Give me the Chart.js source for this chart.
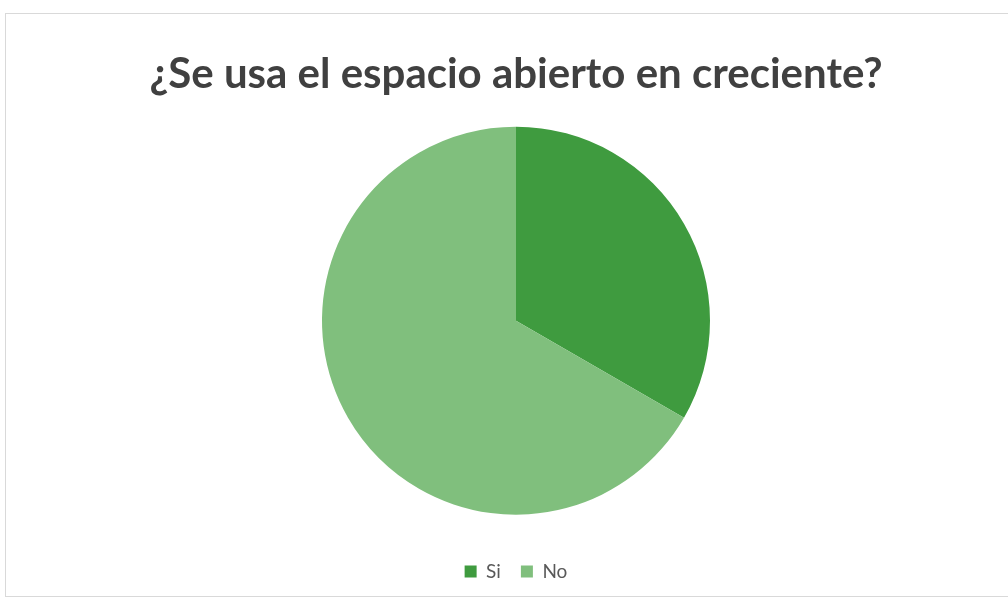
<!DOCTYPE html>
<html>
<head>
<meta charset="utf-8">
<script src="https://cdn.jsdelivr.net/npm/chart.js@4/dist/chart.umd.min.js"></script>
<style>
  html, body { margin: 0; padding: 0; background: #ffffff; }
  #frame { position: absolute; left: 5px; top: 13px; width: 1010px; height: 584px; border: 1px solid #d9d9d9; box-sizing: border-box; }
  #wrap { position: absolute; left: 0; top: 0; width: 1008px; height: 599px; }
</style>
</head>
<body>
<div id="frame"></div>
<div id="wrap"><canvas id="c" width="1008" height="599"></canvas></div>
<script>
const titleText = '¿Se usa el espacio abierto en creciente?';
const categories = ['Si', 'No'];
const values = [1, 2];
const colors = ['#3f9b3f', '#80bf7d'];

// fit title font size to the reference width
const mctx = document.createElement('canvas').getContext('2d');
let titleSize = 34;
for (let s = 28; s <= 44; s += 0.25) {
  mctx.font = 'bold ' + s + 'px Lato';
  if (mctx.measureText(titleText).width <= 737) titleSize = s;
}

new Chart(document.getElementById('c'), {
  type: 'pie',
  data: {
    labels: categories,
    datasets: [{
      data: values,
      backgroundColor: colors,
      borderWidth: 0,
      radius: 194
    }]
  },
  options: {
    responsive: false,
    animation: false,
    layout: { padding: { top: 0, bottom: 8, left: 24, right: 0 } },
    plugins: {
      title: {
        display: true,
        text: titleText,
        color: '#404040',
        font: { family: 'Lato', weight: 'bold', size: titleSize },
        padding: { top: 49, bottom: 0 }
      },
      legend: {
        position: 'bottom',
        labels: {
          color: '#595959',
          font: { family: 'Lato', size: 19 },
          boxWidth: 12,
          boxHeight: 12,
          padding: 20
        }
      },
      tooltip: { enabled: false }
    }
  }
});
</script>
</body>
</html>
